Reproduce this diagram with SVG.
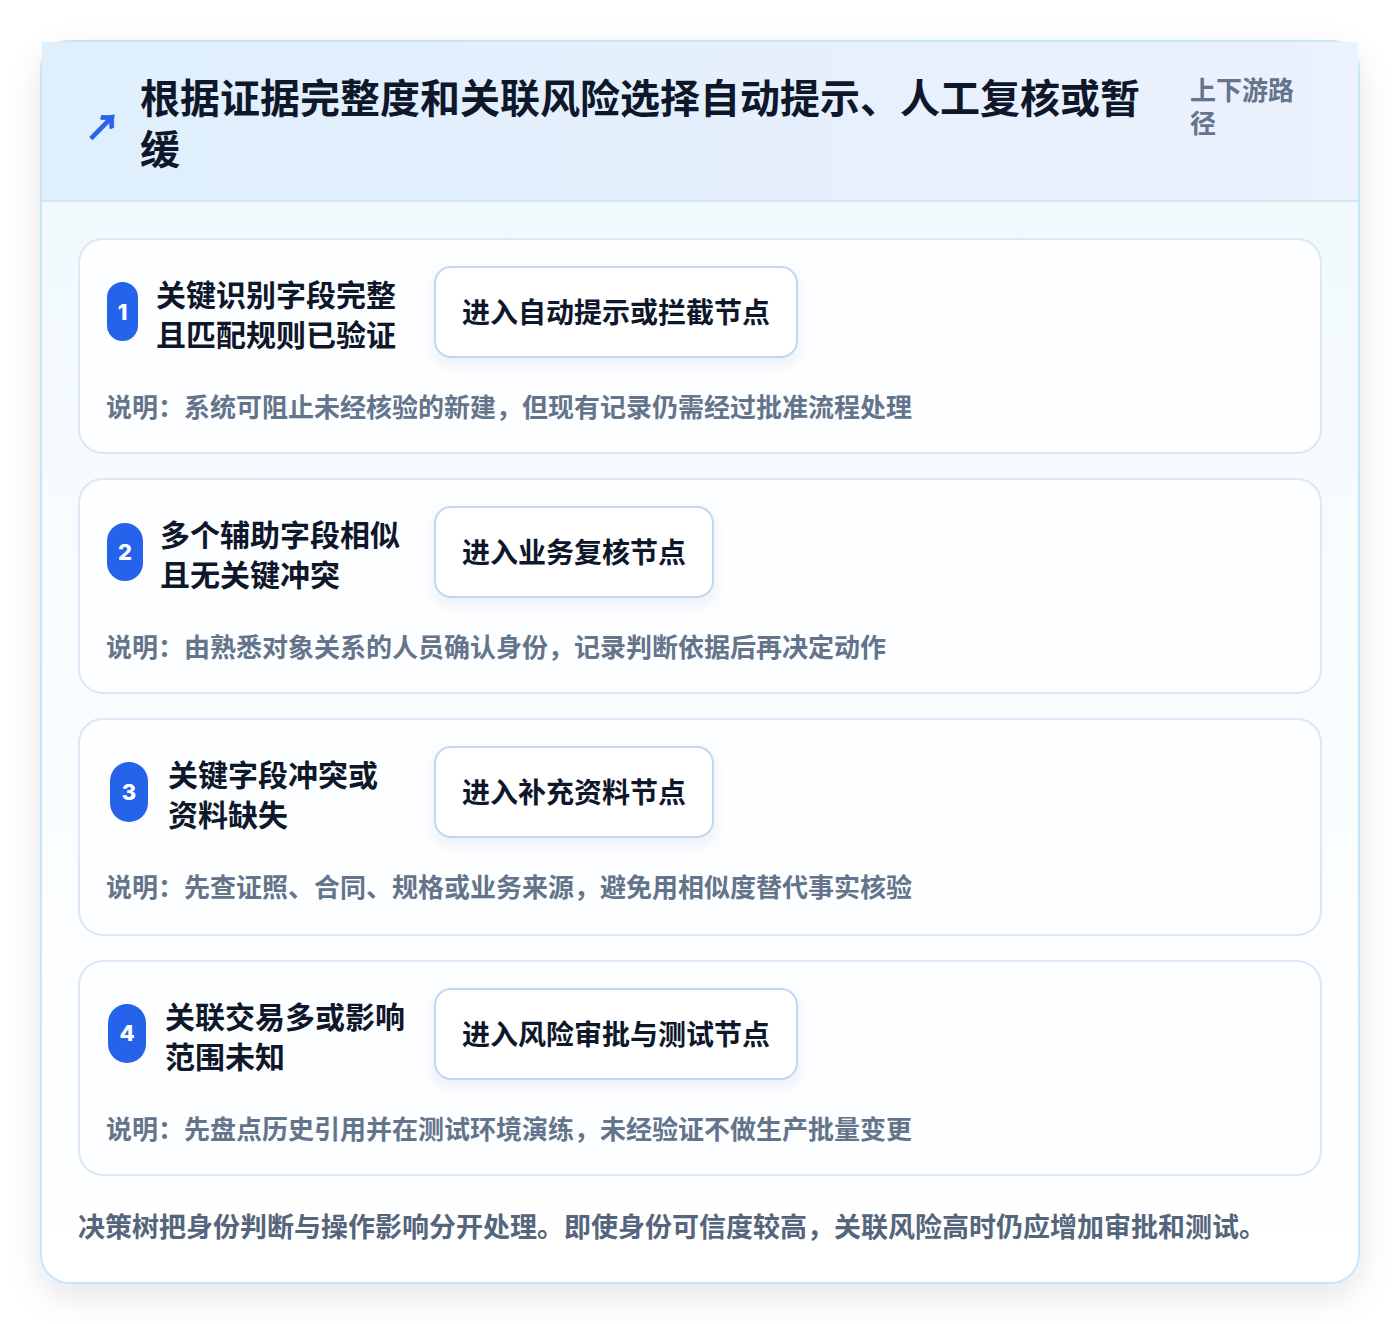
<svg xmlns="http://www.w3.org/2000/svg" width="1400" height="1324" viewBox="0 0 1400 1324">
<defs>
  <linearGradient id="hdr" x1="0" y1="0" x2="1" y2="0">
    <stop offset="0" stop-color="#dfeffc"/>
    <stop offset="1" stop-color="#ebf1fd"/>
  </linearGradient>
  <linearGradient id="body" x1="0" y1="0" x2="0" y2="1">
    <stop offset="0" stop-color="#eff8fd"/>
    <stop offset="0.6" stop-color="#fafdff"/>
    <stop offset="1" stop-color="#ffffff"/>
  </linearGradient>
  <filter id="outerShadow" x="-10%" y="-10%" width="120%" height="125%">
    <feDropShadow dx="0" dy="12" stdDeviation="16" flood-color="#0f172a" flood-opacity="0.10"/>
  </filter>
  <filter id="boxShadow" x="-20%" y="-30%" width="140%" height="170%">
    <feDropShadow dx="0" dy="6" stdDeviation="7" flood-color="#1e3a8a" flood-opacity="0.08"/>
  </filter>
  <style>
    .cjk{font-family:"Noto Sans CJK SC","Noto Sans",sans-serif;font-weight:700}
    .title{font-size:40px;fill:#0f172a}
    .sub{font-size:26px;fill:#64748b}
    .card{fill:#fcfeff;stroke:#dbe8f7;stroke-width:2}
    .badge{fill:#2563eb}
    .num{font-family:Inter,"Open Sans",sans-serif;font-weight:800;font-size:22px;fill:#ffffff;text-anchor:middle}
    .cond{font-size:30px;fill:#0f172a}
    .abox{fill:#ffffff;stroke:#bfd7f5;stroke-width:2}
    .act{font-size:28px;fill:#0f172a}
    .desc{font-size:26px;fill:#64748b}
    .foot{font-size:27px;fill:#55657c}
  </style>
</defs>
<rect x="0" y="0" width="1400" height="1324" fill="#ffffff"/>

<g id="frame">
  <rect x="41" y="41" width="1318" height="1242" rx="28" fill="url(#body)" stroke="#c6e5f6" stroke-width="2" filter="url(#outerShadow)"/>
  <rect x="42" y="42" width="1316" height="159" fill="url(#hdr)"/>
  <line x1="42" y1="201" x2="1358" y2="201" stroke="#d3e8f8" stroke-width="2"/>
</g>

<g id="header">
  <text class="cjk" x="85" y="140" font-size="35" fill="#2563eb" stroke="#2563eb" stroke-width="1">↗</text>
  <text class="cjk title" x="140" y="113">根据证据完整度和关联风险选择自动提示、人工复核或暂</text>
  <text class="cjk title" x="140" y="164">缓</text>
  <text class="cjk sub" x="1190" y="100">上下游路</text>
  <text class="cjk sub" x="1190" y="133">径</text>
</g>

<g id="step1">
  <rect class="card" x="79" y="239" width="1242" height="214" rx="24"/>
  <rect class="badge" x="107" y="282" width="31" height="59" rx="15.5"/>
  <text class="num" x="122.5" y="320">1</text>
  <text class="cjk cond" x="156" y="306">关键识别字段完整</text>
  <text class="cjk cond" x="156" y="346">且匹配规则已验证</text>
  <rect class="abox" x="435" y="267" width="362" height="90" rx="16" filter="url(#boxShadow)"/>
  <text class="cjk act" x="462" y="323">进入自动提示或拦截节点</text>
  <text class="cjk desc" x="106" y="417">说明：系统可阻止未经核验的新建，但现有记录仍需经过批准流程处理</text>
</g>

<g id="step2">
  <rect class="card" x="79" y="479" width="1242" height="214" rx="24"/>
  <rect class="badge" x="107" y="523" width="36" height="58" rx="18"/>
  <text class="num" x="125" y="560">2</text>
  <text class="cjk cond" x="160" y="546">多个辅助字段相似</text>
  <text class="cjk cond" x="160" y="586">且无关键冲突</text>
  <rect class="abox" x="435" y="507" width="278" height="90" rx="16" filter="url(#boxShadow)"/>
  <text class="cjk act" x="462" y="563">进入业务复核节点</text>
  <text class="cjk desc" x="106" y="657">说明：由熟悉对象关系的人员确认身份，记录判断依据后再决定动作</text>
</g>

<g id="step3">
  <rect class="card" x="79" y="719" width="1242" height="216" rx="24"/>
  <rect class="badge" x="110" y="762" width="38" height="60" rx="19"/>
  <text class="num" x="129" y="800">3</text>
  <text class="cjk cond" x="168" y="786">关键字段冲突或</text>
  <text class="cjk cond" x="168" y="826">资料缺失</text>
  <rect class="abox" x="435" y="747" width="278" height="90" rx="16" filter="url(#boxShadow)"/>
  <text class="cjk act" x="462" y="803">进入补充资料节点</text>
  <text class="cjk desc" x="106" y="897">说明：先查证照、合同、规格或业务来源，避免用相似度替代事实核验</text>
</g>

<g id="step4">
  <rect class="card" x="79" y="961" width="1242" height="214" rx="24"/>
  <rect class="badge" x="108" y="1004" width="38" height="59" rx="19"/>
  <text class="num" x="127" y="1041">4</text>
  <text class="cjk cond" x="165" y="1028">关联交易多或影响</text>
  <text class="cjk cond" x="165" y="1068">范围未知</text>
  <rect class="abox" x="435" y="989" width="362" height="90" rx="16" filter="url(#boxShadow)"/>
  <text class="cjk act" x="462" y="1045">进入风险审批与测试节点</text>
  <text class="cjk desc" x="106" y="1139">说明：先盘点历史引用并在测试环境演练，未经验证不做生产批量变更</text>
</g>

<g id="connectors"></g>

<g id="footer">
  <text class="cjk foot" x="78" y="1237">决策树把身份判断与操作影响分开处理。即使身份可信度较高，关联风险高时仍应增加审批和测试。</text>
</g>
</svg>
